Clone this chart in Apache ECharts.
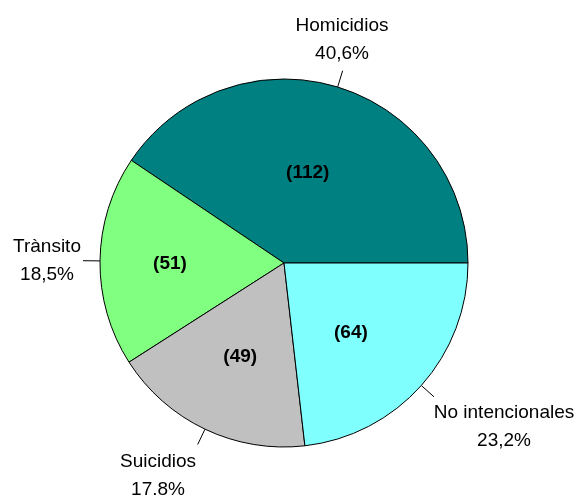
<!DOCTYPE html>
<html><head><meta charset="utf-8">
<script src="https://cdn.jsdelivr.net/npm/echarts@6/dist/echarts.min.js"></script>
<style>html,body{margin:0;padding:0;background:#fff}#c{width:578px;height:497px}</style>
</head><body><div id="c"></div>
<script>
var categories = ["Homicidios", "Trànsito", "Suicidios", "No intencionales"];
var counts = [112, 51, 49, 64];
var percentLabels = ["40,6%", "18,5%", "17.8%", "23,2%"];
var colors = ["#008080", "#80FF80", "#C0C0C0", "#80FFFF"];

var chart = echarts.init(document.getElementById('c'), null, {renderer: 'canvas'});
function makeData(withColor) {
  return categories.map(function (c, i) {
    var d = {name: c, value: counts[i]};
    if (withColor) d.itemStyle = {color: colors[i]};
    return d;
  });
}
// layout tweaks for labels (positions only)
var innerShift = [{dx: -4, dy: 1}, {dx: -19, dy: 2}, {dx: -3, dy: 8}, {dx: -4, dy: 7}];
var outerPos = [
  {x: 342, y: 68, align: 'center', verticalAlign: 'bottom'},
  {x: 47, y: 261, align: 'center', verticalAlign: 'middle'},
  {x: 158, y: 448, align: 'center', verticalAlign: 'top'},
  {x: 504, y: 399, align: 'center', verticalAlign: 'top'}
];
var font = 'Liberation Sans, Arial, sans-serif';
var common = {
  type: 'pie',
  center: [284, 263],
  radius: [0, 184],
  startAngle: 0,
  clockwise: false,
  emphasis: {disabled: true},
  silent: true,
  animation: false
};
chart.setOption({
  animation: false,
  series: [
    Object.assign({}, common, {
      data: makeData(true),
      itemStyle: {borderColor: '#000', borderWidth: 1},
      label: {
        position: 'inner',
        formatter: function (p) { return '(' + p.value + ')'; },
        fontFamily: font,
        fontSize: 19,
        fontWeight: 'bold',
        color: '#000'
      },
      labelLine: {show: false},
      labelLayout: function (p) { return innerShift[p.dataIndex]; }
    }),
    Object.assign({}, common, {
      data: makeData(false),
      itemStyle: {color: 'rgba(0,0,0,0)', borderWidth: 0},
      label: {position: 'outside', formatter: ' ', fontSize: 2, color: 'rgba(0,0,0,0)'},
      labelLine: {show: true, length: 17, length2: 0, smooth: false, lineStyle: {color: '#000', width: 1}}
    }),
    Object.assign({}, common, {
      data: makeData(false),
      itemStyle: {color: 'rgba(0,0,0,0)', borderWidth: 0},
      label: {
        position: 'outside',
        formatter: function (p) { return p.name + '\n' + percentLabels[p.dataIndex]; },
        fontFamily: font,
        fontSize: 19,
        lineHeight: 28,
        color: '#000',
        align: 'center',
        overflow: 'none'
      },
      labelLine: {show: false},
      labelLayout: function (p) { return outerPos[p.dataIndex]; }
    })
  ]
});
</script></body></html>
